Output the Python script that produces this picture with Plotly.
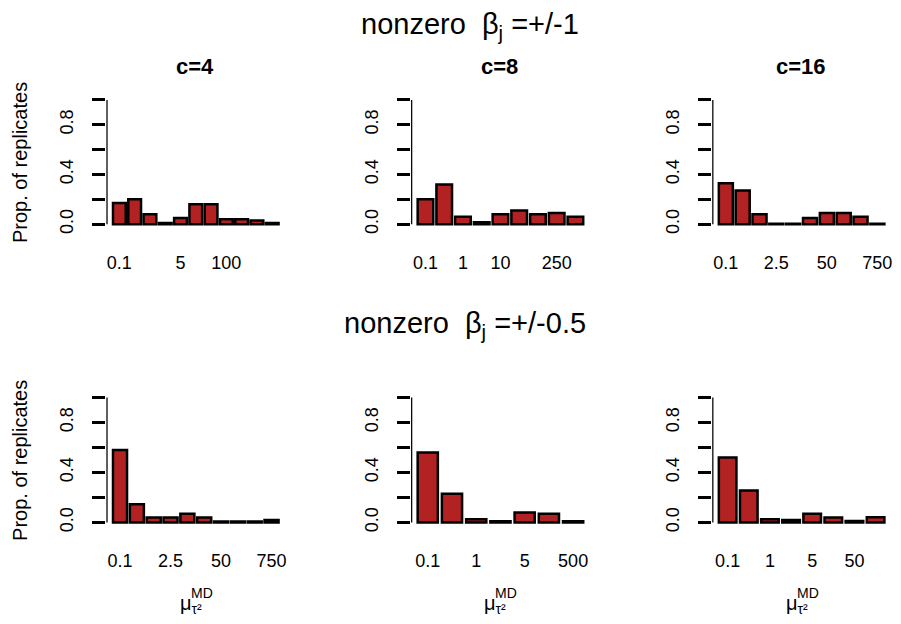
import plotly.graph_objects as go

W, H = 901, 624
FONT = "Liberation Sans, Arial, Helvetica, sans-serif"
FILL = "#B22222"

# ---- data (proportion of replicates per mu_tau2^MD value) ----
row_titles = ["nonzero&nbsp; β<sub>j</sub> =+/-1", "nonzero&nbsp; β<sub>j</sub> =+/-0.5"]
col_titles = ["c=4", "c=8", "c=16"]

b1_c4_vals = [0.17, 0.20, 0.08, 0.01, 0.05, 0.16, 0.16, 0.04, 0.04, 0.03, 0.01]
b1_c4_labels = ["0.1", "", "", "", "5", "", "", "100", "", "", ""]

b1_c8_vals = [0.20, 0.32, 0.06, 0.015, 0.08, 0.11, 0.08, 0.09, 0.06]
b1_c8_labels = ["0.1", "", "1", "", "10", "", "", "250", ""]

b1_c16_vals = [0.33, 0.27, 0.08, 0.004, 0.004, 0.05, 0.09, 0.09, 0.06, 0.004]
b1_c16_labels = ["0.1", "", "", "2.5", "", "", "50", "", "", "750"]

b05_c4_vals = [0.58, 0.145, 0.04, 0.04, 0.07, 0.04, 0.008, 0.008, 0.008, 0.02]
b05_c4_labels = ["0.1", "", "", "2.5", "", "", "50", "", "", "750"]

b05_c8_vals = [0.56, 0.23, 0.025, 0.01, 0.08, 0.07, 0.01]
b05_c8_labels = ["0.1", "", "1", "", "5", "", "500"]

b05_c16_vals = [0.52, 0.255, 0.025, 0.02, 0.07, 0.04, 0.012, 0.042]
b05_c16_labels = ["0.1", "", "1", "", "5", "", "50", ""]

y_label_step = 0.4   # labelled ticks 0.0, 0.4, 0.8
y_minor_step = 0.2   # unlabelled ticks in between
y_top = 1.0

panels = [
    (b1_c4_vals, b1_c4_labels), (b1_c8_vals, b1_c8_labels), (b1_c16_vals, b1_c16_labels),
    (b05_c4_vals, b05_c4_labels), (b05_c8_vals, b05_c8_labels), (b05_c16_vals, b05_c16_labels),
]

# ---- layout geometry (pixels) ----
col_left = [106.5, 411.5, 713.0]
col_w = 179.0
row_top = [95.7, 395.7]
row_bot = [231.0, 531.7]

def px_x(p):
    return p / W

def px_y(p):
    return 1 - p / H

fig = go.Figure()
annotations = []
shapes = []

for k, (vals, labels) in enumerate(panels):
    r, c = divmod(k, 3)
    n = len(vals)
    centers = [0.7 + 1.2 * i for i in range(n)]
    span = 1.2 * n - 0.2
    xlim = [0.2 - 0.04 * span, 1.2 * n + 0.04 * span]
    sfx = "" if k == 0 else str(k + 1)
    xa, ya = "x" + sfx, "y" + sfx
    shown = [(cx, lab) for cx, lab in zip(centers, labels) if lab]

    fig.add_trace(go.Bar(
        x=centers, y=vals, width=1.0,
        marker=dict(color=FILL, line=dict(color="black", width=2.5)),
        xaxis=xa, yaxis=ya, showlegend=False, hoverinfo="skip",
    ))

    fig.layout["xaxis" + sfx] = dict(
        domain=[px_x(col_left[c]), px_x(col_left[c] + col_w)],
        range=xlim, anchor=ya, showgrid=False, zeroline=False, showline=False,
        tickmode="array", tickvals=[s[0] for s in shown], ticktext=[s[1] for s in shown],
        ticks="", tickfont=dict(family=FONT, size=18, color="black"),
        ticklabelstandoff=21, fixedrange=True,
    )
    fig.layout["yaxis" + sfx] = dict(
        domain=[px_y(row_bot[r]), px_y(row_top[r])],
        range=[-0.04, 1.04], anchor=xa, showgrid=False, zeroline=False, showline=False,
        tickmode="linear", tick0=0, dtick=y_label_step, tickformat=".1f",
        ticks="outside", ticklen=13, tickwidth=2.5, tickcolor="black",
        minor=dict(tick0=0, dtick=y_minor_step, ticks="outside", ticklen=13,
                   tickwidth=2.5, tickcolor="black", showgrid=False),
        tickangle=-90, tickfont=dict(family=FONT, size=18, color="black"),
        ticklabelstandoff=12, fixedrange=True,
    )
    # R-style y axis line spanning only the tick range
    shapes.append(dict(type="line", xref=xa, yref=ya, x0=xlim[0], x1=xlim[0],
                       y0=0, y1=y_top, line=dict(color="black", width=2.5)))

    cx = col_left[c] + col_w / 2
    if r == 0:
        annotations.append(dict(text="<b>" + col_titles[c] + "</b>", xref="paper", yref="paper",
                                x=px_x(cx - 1), y=px_y(67), xanchor="center", yanchor="middle",
                                showarrow=False, font=dict(family=FONT, size=22, color="black")))
    else:
        annotations.append(dict(text="μ<sub>τ²</sub>", xref="paper", yref="paper",
                                x=px_x(cx - 5), y=px_y(609), xanchor="center", yanchor="middle",
                                showarrow=False, font=dict(family=FONT, size=20, color="black")))
        annotations.append(dict(text="MD", xref="paper", yref="paper",
                                x=px_x(cx + 6), y=px_y(598), xanchor="center", yanchor="middle",
                                showarrow=False, font=dict(family=FONT, size=14, color="black")))
    if c == 0:
        annotations.append(dict(text="Prop. of replicates", xref="paper", yref="paper",
                                x=px_x(20), y=px_y((row_top[r] + row_bot[r]) / 2),
                                xanchor="center", yanchor="middle", textangle=-90,
                                showarrow=False, font=dict(family=FONT, size=20, color="black")))

for r, t in enumerate(row_titles):
    annotations.append(dict(text=t, xref="paper", yref="paper",
                            x=px_x([471, 466][r]), y=px_y([26, 328][r]), xanchor="center", yanchor="middle",
                            showarrow=False, font=dict(family=FONT, size=29, color="black")))

fig.update_layout(
    width=W, height=H, margin=dict(l=0, r=0, t=0, b=0),
    paper_bgcolor="white", plot_bgcolor="white",
    annotations=annotations, shapes=shapes,
    font=dict(family=FONT, color="black"),
)

fig.write_html("out.html", config={"displayModeBar": False},
               post_script="document.body.style.margin='0px';")
